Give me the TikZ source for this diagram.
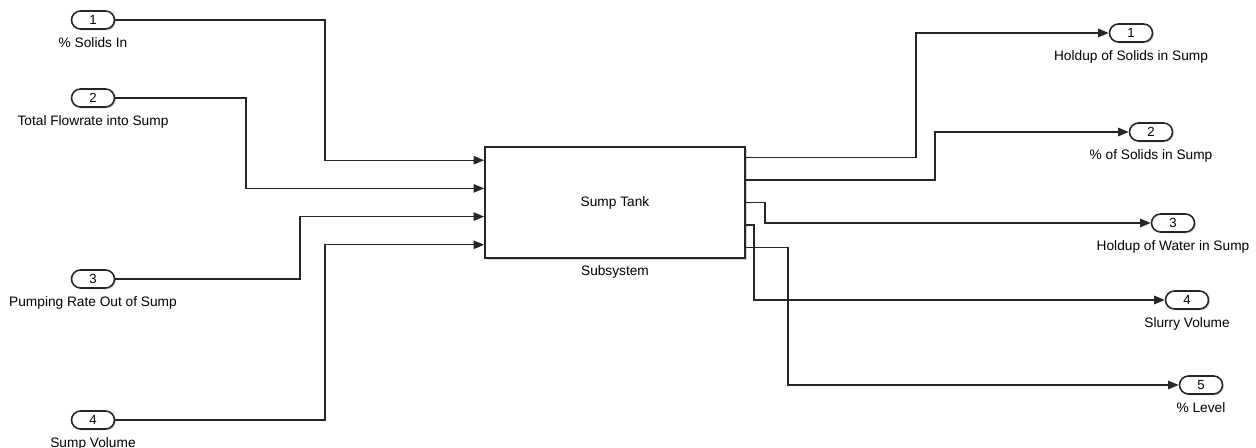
\documentclass[tikz,border=0pt]{standalone}
\usepackage{fontspec}
\setmainfont{Liberation Sans}
\usepackage{tikz}
\usetikzlibrary{arrows.meta, positioning, calc, shadows}
\tikzset{
  porto/.style={draw=black!85, line width=0.9pt, rounded corners=1.8mm,
    minimum width=0.86cm, minimum height=0.36cm, inner sep=0pt, fill=white,
    drop shadow={shadow xshift=0.8pt, shadow yshift=-0.8pt, opacity=0.35},
    font=\fontsize{7.5}{9}\selectfont},
  bloco/.style={draw=black!85, line width=1pt, fill=white,
    minimum width=5.2cm, minimum height=2.22cm, inner sep=0pt,
    drop shadow={shadow xshift=1.2pt, shadow yshift=-1.2pt, opacity=0.35},
    font=\fontsize{7.8}{9.5}\selectfont},
  rotulo/.style={font=\fontsize{7.8}{9.5}\selectfont, inner sep=0pt},
  sinal/.style={line width=0.75pt, draw=black!85,
    -{Triangle[length=6pt, width=4.8pt]}},
}

\begin{document}
\begin{tikzpicture}[x=0.02cm, y=-0.02cm]
    \useasboundingbox (0,0) rectangle (1256,448);

    % entradas
    \node[porto] (in1) at (93,20) {1};
    \node[porto] (in2) at (93,98) {2};
    \node[porto] (in3) at (93,279) {3};
    \node[porto] (in4) at (93,420) {4};
    \node[rotulo, below=0.15cm of in1] (lin1) {\% Solids In};
    \node[rotulo, below=0.15cm of in2] (lin2) {Total Flowrate into Sump};
    \node[rotulo, below=0.15cm of in3] (lin3) {Pumping Rate Out of Sump};
    \node[rotulo, below=0.15cm of in4] (lin4) {Sump Volume};

    % bloco
    \node[bloco] (tanque) at (615,202.5) {Sump Tank};
    \node[rotulo, below=0.12cm of tanque] (subsis) {Subsystem};
    \foreach \i in {1,...,4}
      \coordinate (e\i) at ($(tanque.north west)!{(2*\i-1)/8}!(tanque.south west)$);
    \foreach \i in {1,...,5}
      \coordinate (s\i) at ($(tanque.north east)!{(2*\i-1)/10}!(tanque.south east)$);

    % saidas
    \node[porto] (out1) at (1131,33) {1};
    \node[porto] (out2) at (1151,132) {2};
    \node[porto] (out3) at (1173,223) {3};
    \node[porto] (out4) at (1187,300) {4};
    \node[porto] (out5) at (1201,385) {5};
    \node[rotulo, below=0.15cm of out1] (lout1) {Holdup of Solids in Sump};
    \node[rotulo, below=0.15cm of out2] (lout2) {\% of Solids in Sump};
    \node[rotulo, below=0.15cm of out3] (lout3) {Holdup of Water in Sump};
    \node[rotulo, below=0.15cm of out4] (lout4) {Slurry Volume};
    \node[rotulo, below=0.15cm of out5] (lout5) {\% Level};

    % dobras
    \coordinate (k1) at (325,0);
    \coordinate (k2) at (246,0);
    \coordinate (k3) at (300,0);
    \coordinate (k4) at (325,0);
    \coordinate (q1) at (916,0);
    \coordinate (q2) at (935,0);
    \coordinate (q3) at (765,0);
    \coordinate (q4) at (754,0);
    \coordinate (q5) at (788,0);

    \foreach \i in {1,...,4}
      \draw[sinal] (in\i.east) -| (k\i |- e\i) -- (e\i);
    \foreach \i in {1,...,5}
      \draw[sinal] (s\i) -| (q\i |- out\i.west) -- (out\i.west);
\end{tikzpicture}
\end{document}
